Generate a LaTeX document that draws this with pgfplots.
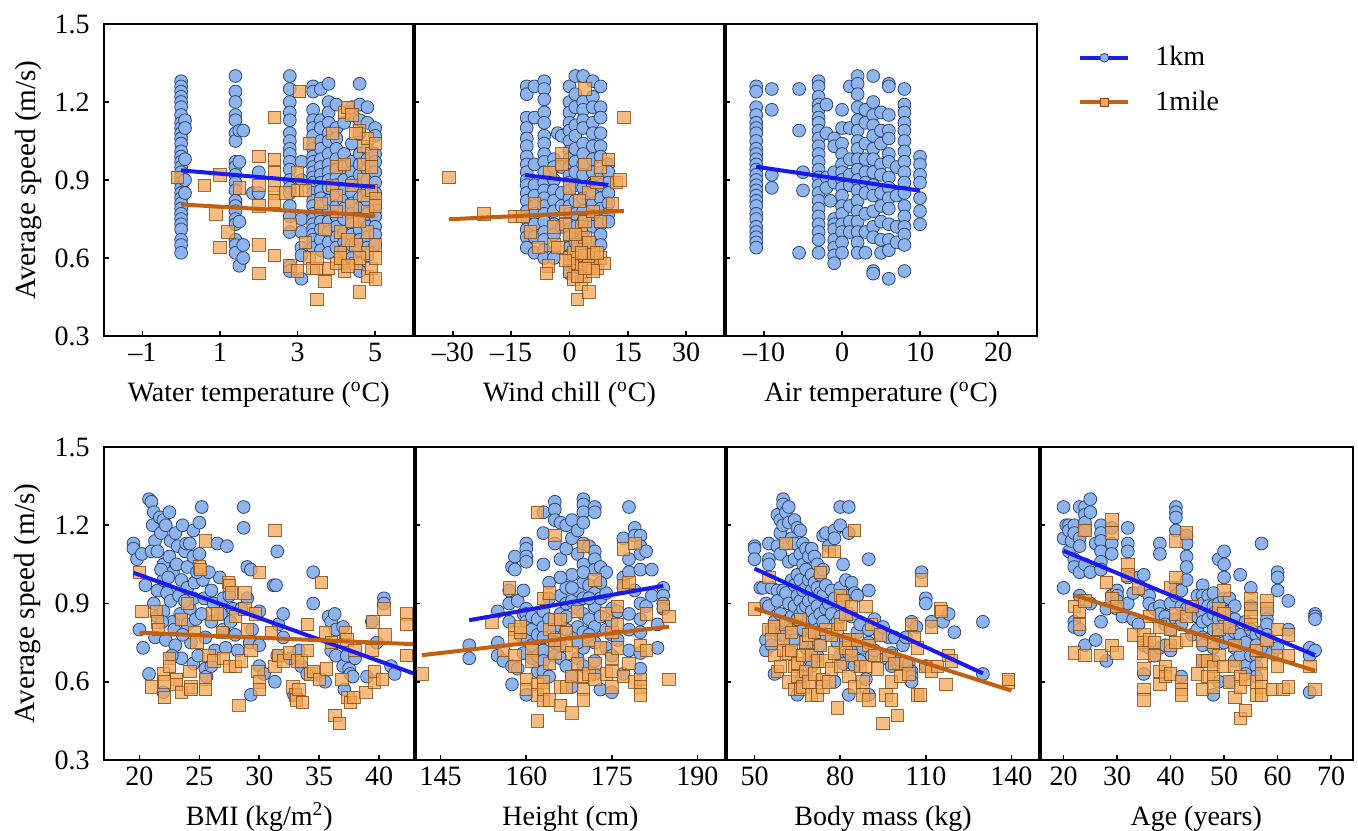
\documentclass[border=0pt]{standalone}
\usepackage{fontspec}
\setmainfont{Liberation Serif}
\usepackage{pgfplots}
\pgfplotsset{compat=1.18}
\definecolor{kmfill}{RGB}{141,180,238}
\definecolor{kmedge}{RGB}{45,70,115}
\definecolor{kmline}{RGB}{25,25,240}
\definecolor{mifill}{RGB}{244,165,85}
\definecolor{miedge}{RGB}{130,75,20}
\definecolor{miline}{RGB}{195,95,15}
\newcommand{\fs}{\fontsize{14pt}{16pt}\selectfont}
\newcommand{\fsl}{\fontsize{14.6pt}{17pt}\selectfont}
\pgfplotsset{
  panel/.style={
    scale only axis, anchor=south west,
    clip marker paths=true,
    ymin=0.3, ymax=1.5,
    ytick={0.3,0.6,0.9,1.2,1.5}, yticklabels={},
    tick align=inside, tick pos=left,
    major tick length=2.5pt,
    axis line style={line width=1pt},
    every tick/.style={black, line width=0.8pt},
    tick label style={font=\fs},
    label style={font=\fs},
    xticklabel style={anchor=base, yshift=-12.75pt, inner sep=0pt},
    yticklabel style={anchor=east, inner sep=0pt, xshift=-6.75pt},
    xlabel style={at={(axis description cs:0.5,0)}, anchor=base, yshift=-32.75pt, inner sep=0pt},
    ylabel style={at={(axis description cs:-0.22,0.5)}, anchor=base, inner sep=0pt, font=\fsl},
    legend image code/.code={\draw[mark repeat=2,mark phase=2,##1] plot coordinates {(0pt,0pt) (12pt,0pt) (24pt,0pt)};},
  },
  thickleft/.style={after end axis/.code={\draw[line width=2.4pt] (rel axis cs:0,0) -- (rel axis cs:0,1);}},
  kmpts/.style={only marks, mark=*, mark size=3.2pt, mark options={fill=kmfill, draw=kmedge, line width=0.4pt}},
  mipts/.style={only marks, mark=square*, mark size=3.1pt, mark options={fill=mifill, draw=miedge, line width=0.4pt, fill opacity=0.75, draw opacity=0.8}},
  kmfit/.style={kmline, line width=2pt},
  mifit/.style={miline, line width=2pt},
}
\begin{document}
\begin{tikzpicture}
\useasboundingbox (0,0) rectangle (679pt,-415pt);
% ---------- Panel 1: water temperature
\begin{axis}[panel, at={(51.75pt,-168pt)}, width=155.25pt, height=156pt,
  xmin=-2, xmax=6, xtick={-1,1,3,5}, xticklabels={–1,1,3,5},
  yticklabels={0.3,0.6,0.9,1.2,1.5},
  ylabel={Average speed (m/s)}, xlabel={Water temperature (\textsuperscript{o}C)}]
\addplot[kmpts] coordinates {
(0,1.28)(0,1.26)(0,1.24)(0,1.22)(0,1.20)(0,1.18)(0,1.15)(0,1.12)(0,1.10)(0,1.08)(0,1.06)(0,1.04)(0,1.01)(0,0.99)(0,0.97)(0,0.95)(0,0.93)(0,0.91)(0,0.89)(0,0.87)(0,0.85)(0,0.83)(0,0.81)(0,0.79)(0,0.77)(0,0.75)(0,0.73)(0,0.71)(0,0.67)(0,0.65)(0,0.62)(0.1,1.13)(0.1,1.10)(0.1,0.98)(0.1,0.90)(0.1,0.85)
(1.4,1.30)(1.4,1.24)(1.4,1.20)(1.4,1.15)(1.4,1.13)(1.4,1.08)(1.4,1.05)(1.4,0.97)(1.4,0.95)(1.4,0.92)(1.4,0.89)(1.4,0.86)(1.4,0.82)(1.4,0.80)(1.4,0.78)(1.4,0.75)(1.4,0.73)(1.4,0.67)(1.4,0.65)(1.4,0.62)(1.5,0.57)(1.5,1.09)(1.5,0.97)(1.5,0.74)(1.6,1.09)(1.6,0.65)(1.6,0.60)(1.85,0.85)(2.0,0.93)(2.0,0.85)
(2.8,1.30)(2.8,1.25)(2.8,1.20)(2.8,1.16)(2.8,1.13)(2.8,1.08)(2.8,1.05)(2.8,1.02)(2.8,1.00)(2.8,0.97)(2.8,0.94)(2.8,0.90)(2.8,0.87)(2.8,0.85)(2.8,0.80)(2.8,0.76)(2.8,0.70)(2.8,0.57)(2.8,0.55)
(3.1,0.97)(3.1,0.90)(3.1,0.75)(3.1,0.70)(3.1,0.64)(3.1,0.61)(3.1,0.52)
(3.4,1.26)(3.4,1.24)(3.4,1.17)(3.4,1.13)(3.4,1.10)(3.4,1.07)(3.4,1.04)(3.4,1.02)(3.4,0.99)(3.4,0.97)(3.4,0.95)(3.4,0.93)(3.4,0.91)(3.4,0.89)(3.4,0.87)(3.4,0.85)(3.4,0.82)(3.4,0.80)(3.4,0.77)(3.4,0.75)(3.4,0.73)(3.4,0.71)(3.4,0.69)(3.4,0.67)(3.4,0.64)
(3.6,1.25)(3.6,1.13)(3.6,1.10)(3.6,1.05)(3.6,1.02)(3.6,0.98)(3.6,0.95)(3.6,0.92)(3.6,0.89)(3.6,0.86)(3.6,0.83)(3.6,0.80)(3.6,0.77)(3.6,0.74)(3.6,0.71)(3.6,0.67)(3.6,0.63)
(3.8,1.27)(3.8,1.20)(3.8,1.16)(3.8,1.12)(3.8,1.08)(3.8,1.05)(3.8,1.00)(3.8,0.96)(3.8,0.93)(3.8,0.90)(3.8,0.87)(3.8,0.82)(3.8,0.78)(3.8,0.74)(3.8,0.70)(3.8,0.66)(3.8,0.62)
(4.0,1.19)(4.0,1.10)(4.0,1.06)(4.0,1.02)(4.0,0.98)(4.0,0.94)(4.0,0.91)(4.0,0.88)(4.0,0.84)(4.0,0.80)(4.0,0.76)(4.0,0.72)(4.0,0.68)(4.0,0.64)
(4.2,1.12)(4.2,1.00)(4.2,0.95)(4.2,0.90)(4.2,0.86)(4.2,0.82)(4.2,0.79)(4.2,0.75)(4.2,0.70)(4.2,0.66)(4.2,0.63)(4.2,0.58)
(4.4,1.18)(4.4,1.15)(4.4,1.04)(4.4,0.97)(4.4,0.93)(4.4,0.89)(4.4,0.85)(4.4,0.81)(4.4,0.77)(4.4,0.73)(4.4,0.69)(4.4,0.65)(4.4,0.60)
(4.6,1.27)(4.6,1.19)(4.6,1.13)(4.6,1.08)(4.6,1.00)(4.6,0.96)(4.6,0.92)(4.6,0.88)(4.6,0.83)(4.6,0.79)(4.6,0.75)(4.6,0.71)(4.6,0.67)(4.6,0.63)(4.6,0.55)
(4.8,1.18)(4.8,1.12)(4.8,1.02)(4.8,0.98)(4.8,0.94)(4.8,0.90)(4.8,0.86)(4.8,0.82)(4.8,0.77)(4.8,0.72)(4.8,0.68)(4.8,0.64)(4.8,0.61)
(5.0,1.10)(5.0,1.07)(5.0,1.00)(5.0,0.97)(5.0,0.93)(5.0,0.89)(5.0,0.85)(5.0,0.80)(5.0,0.76)(5.0,0.72)(5.0,0.69)(5.0,0.65)
};
\addplot[mipts] coordinates {
(-0.1,0.91)(0.6,0.88)(1.0,0.92)(0.9,0.77)(1.2,0.70)(1.0,0.64)(1.5,0.87)(2.0,0.99)(2.0,0.88)(2.0,0.80)(2.0,0.65)(2.0,0.54)(2.4,1.14)(2.4,0.98)(2.4,0.93)(2.4,0.88)(2.4,0.85)(2.4,0.82)(2.4,0.61)(2.7,0.85)(2.8,0.73)(2.8,0.57)(3.0,0.93)(3.0,0.86)(3.05,1.24)(3.2,0.66)(3.0,0.55)(3.3,1.04)(3.3,0.60)(3.4,0.56)(3.5,0.56)(3.5,0.44)(3.7,0.51)(3.8,0.56)(3.9,0.88)(3.9,1.08)(4.0,0.95)(4.0,0.84)(4.0,0.78)(4.1,0.70)(4.1,0.62)(4.2,1.16)(4.2,0.55)(4.3,1.18)(4.4,1.15)(4.4,0.88)(4.4,0.80)(4.4,0.74)(4.5,0.65)(4.5,0.58)(4.6,0.47)(4.6,1.09)(4.7,1.03)(4.7,0.96)(4.7,0.90)(4.7,0.84)(4.8,1.06)(4.8,0.78)(4.8,0.70)(4.8,0.62)(4.8,0.53)(4.9,1.00)(4.9,0.86)(4.9,0.56)(5.0,0.83)(5.0,0.80)(5.0,0.65)(5.0,0.60)(5.0,0.52)(4.5,1.08)(4.2,0.96)(3.6,0.81)(3.7,0.71)(4.3,0.67)(4.0,0.58)(4.6,0.74)(3.2,0.86)(3.5,0.60)(4.1,0.60)(4.9,0.95)(5.0,1.04)(4.6,0.60)(4.3,0.57)
};
\addplot[kmfit] coordinates {(0,0.937) (5,0.873)};
\addplot[mifit] coordinates {(0,0.806) (5,0.763)};
\end{axis}
% ---------- Panel 2: wind chill
\begin{axis}[panel, thickleft, at={(207pt,-168pt)}, width=155.5pt, height=156pt,
  xmin=-40, xmax=40, xtick={-30,-15,0,15,30}, xticklabels={–30,–15,0,15,30},
  xlabel={Wind chill (\textsuperscript{o}C)}]
\addplot[kmpts] coordinates {
(-11,1.26)(-11,1.23)(-11,1.14)(-11,1.10)(-11,1.06)(-11,1.03)(-11,0.99)(-11,0.96)(-11,0.93)(-11,0.90)(-11,0.88)(-11,0.85)(-11,0.82)(-11,0.78)(-11,0.75)(-11,0.71)(-11,0.68)(-11,0.64)
(-9,1.26)(-9,1.14)(-9,0.96)(-9,0.88)(-9,0.84)(-9,0.80)(-9,0.77)(-9,0.73)(-9,0.68)(-9,0.62)
(-6.5,1.28)(-6.5,1.25)(-6.5,1.21)(-6.5,1.16)(-6.5,1.12)(-6.5,1.07)(-6.5,1.04)(-6.5,1.00)(-6.5,0.97)(-6.5,0.93)(-6.5,0.89)(-6.5,0.86)(-6.5,0.83)(-6.5,0.80)(-6.5,0.77)(-6.5,0.74)(-6.5,0.70)(-6.5,0.67)(-6.5,0.63)(-6.5,0.60)
(-4,0.98)(-4,0.95)(-4,0.90)(-4,0.86)(-4,0.82)(-4,0.78)(-4,0.73)(-4,0.69)(-4,0.62)(-4,0.60)(-3,1.08)
(-2,1.07)(-2,0.95)(-2,0.85)(-2,0.80)(-2,0.72)
(0,1.26)(0,1.20)(0,1.16)(0,1.12)(0,1.09)(0,1.05)(0,1.01)(0,0.98)(0,0.95)(0,0.92)(0,0.89)(0,0.86)(0,0.83)(0,0.80)(0,0.77)(0,0.74)(0,0.71)(0,0.68)(0,0.64)(0,0.61)(0,0.57)(0,0.54)
(1.5,1.30)(1.5,1.23)(1.5,1.18)(1.5,1.11)(1.5,1.07)(1.5,1.02)(1.5,0.97)(1.5,0.93)(1.5,0.88)(1.5,0.82)(1.5,0.77)(1.5,0.72)(1.5,0.66)(1.5,0.60)(1.5,0.55)
(3.5,1.30)(3.5,1.20)(3.5,1.17)(3.5,1.13)(3.5,1.10)(3.5,1.04)(3.5,1.00)(3.5,0.96)(3.5,0.92)(3.5,0.87)(3.5,0.83)(3.5,0.78)(3.5,0.74)(3.5,0.70)(3.5,0.66)(3.5,0.62)(3.5,0.58)
(6,1.28)(6,1.22)(6,1.18)(6,1.12)(6,1.08)(6,1.03)(6,0.98)(6,0.93)(6,0.88)(6,0.85)(6,0.81)(6,0.76)(6,0.72)(6,0.66)(6,0.62)(6,0.58)
(8,1.26)(8,1.18)(8,1.14)(8,1.08)(8,1.03)(8,0.99)(8,0.93)(8,0.88)(8,0.83)(8,0.79)(8,0.73)(8,0.69)(8,0.65)
(10,0.96)(10,0.93)(10,0.89)(10,0.85)(10,0.81)(10,0.77)(10,0.74)
};
\addplot[mipts] coordinates {
(-31,0.91)(-22,0.77)(-14,0.76)(-12,0.76)(-10,0.70)(-9,0.81)(-8,0.64)(-5,0.93)(-4,0.72)(-4,0.65)(-5.5,0.57)(-6,0.54)(-3,0.64)(-2,1.00)(-2,0.96)(-1,0.78)(-1,0.73)(0,0.87)(0,0.69)(0,0.60)(0,0.55)(1,0.62)(1,0.52)(2,0.44)(2,0.58)(2,0.65)(3,0.72)(3,0.57)(3,0.50)(4,1.25)(4,0.96)(4,0.74)(4,0.68)(4,0.61)(4,0.53)(5,0.47)(5,0.85)(5,0.57)(6,0.62)(6,0.78)(7,0.89)(7,0.56)(8,0.60)(8,0.74)(8,0.95)(9,0.58)(10,0.98)(11,0.81)(12,0.89)(14,1.14)(13,0.90)(2.5,0.82)(1.5,0.69)(5,0.66)(3,0.62)(6,0.55)(-1,0.59)(2,0.53)(4,0.56)(7,0.62)
};
\addplot[kmfit] coordinates {(-11.5,0.919) (10,0.881)};
\addplot[mifit] coordinates {(-31,0.749) (14,0.781)};
\end{axis}
% ---------- Panel 3: air temperature
\begin{axis}[panel, thickleft, at={(362.5pt,-168pt)}, width=156pt, height=156pt,
  xmin=-15, xmax=25, xtick={-10,0,10,20}, xticklabels={–10,0,10,20},
  xlabel={Air temperature (\textsuperscript{o}C)},
  legend style={draw=none, fill=none, at={(rel axis cs:1.131,0.929)}, anchor=north west, font=\fs, row sep=11pt, inner sep=0pt, nodes={inner sep=0pt}, /tikz/every odd column/.append style={column sep=12.5pt}},
  legend cell align=left]
\addlegendimage{kmline, line width=2pt, mark=*, mark size=2.2pt, mark options={fill=kmfill, draw=kmedge, line width=0.4pt}}
\addlegendentry{1km}
\addlegendimage{miline, line width=2pt, mark=square*, mark size=2.1pt, mark options={fill=mifill, draw=miedge, line width=0.4pt}}
\addlegendentry{1mile}
\addplot[kmpts, forget plot] coordinates {
(-11,1.26)(-11,1.24)(-11,1.18)(-11,1.15)(-11,1.12)(-11,1.10)(-11,1.08)(-11,1.05)(-11,1.02)(-11,1.00)(-11,0.98)(-11,0.96)(-11,0.94)(-11,0.92)(-11,0.90)(-11,0.88)(-11,0.86)(-11,0.84)(-11,0.82)(-11,0.80)(-11,0.77)(-11,0.75)(-11,0.72)(-11,0.70)(-11,0.68)(-11,0.66)(-11,0.64)
(-9,1.25)(-9,1.17)(-9,0.92)(-9,0.87)(-5.5,1.25)(-5.5,1.09)(-5.5,0.62)(-5,0.93)(-5,0.86)
(-3,1.28)(-3,1.26)(-3,1.22)(-3,1.19)(-3,1.17)(-3,1.14)(-3,1.12)(-3,1.09)(-3,1.06)(-3,1.03)(-3,1.00)(-3,0.97)(-3,0.94)(-3,0.91)(-3,0.88)(-3,0.85)(-3,0.82)(-3,0.79)(-3,0.76)(-3,0.73)(-3,0.70)(-3,0.67)(-3,0.62)
(-2,1.19)(-2,1.08)(-2,0.91)(-2,0.87)(-1.5,0.82)
(-1,1.06)(-1,1.03)(-1,0.93)(-1,0.89)(-1,0.75)(-1,0.73)(-1,0.71)(-1,0.67)(-1,0.64)(-1,0.61)(-1,0.58)
(0,1.17)(0,1.10)(0,1.04)(0,1.00)(0,0.96)(0,0.93)(0,0.90)(0,0.87)(0,0.84)(0,0.80)(0,0.77)(0,0.73)(0,0.70)(0,0.66)(0,0.62)
(1,1.26)(1,1.10)(1,0.98)(1,0.92)(1,0.88)(1,0.80)(1,0.74)(1,0.70)
(2,1.30)(2,1.27)(2,1.23)(2,1.18)(2,1.13)(2,1.09)(2,1.05)(2,1.02)(2,0.98)(2,0.94)(2,0.90)(2,0.86)(2,0.82)(2,0.78)(2,0.74)(2,0.70)(2,0.66)(2,0.62)
(3,1.17)(3,1.12)(3,1.04)(3,0.98)(3,0.93)(3,0.89)(3,0.85)(3,0.77)(3,0.70)(3,0.62)
(4,1.30)(4,1.20)(4,1.15)(4,1.11)(4,1.07)(4,1.02)(4,0.98)(4,0.93)(4,0.88)(4,0.84)(4,0.78)(4,0.72)(4,0.68)(4,0.55)(4,0.54)
(5,1.16)(5,1.09)(5,1.04)(5,0.96)(5,0.92)(5,0.85)(5,0.80)(5,0.74)(5,0.67)(5,0.62)
(6,1.27)(6,1.26)(6,1.15)(6,1.09)(6,1.06)(6,1.00)(6,0.97)(6,0.91)(6,0.87)(6,0.83)(6,0.79)(6,0.73)(6,0.67)(6,0.63)(6,0.52)
(7,0.95)(7,0.84)(7,0.72)(7,0.66)
(8,1.25)(8,1.19)(8,1.16)(8,1.12)(8,1.09)(8,1.05)(8,1.01)(8,0.97)(8,0.93)(8,0.89)(8,0.85)(8,0.80)(8,0.76)(8,0.72)(8,0.69)(8,0.65)(8,0.55)
(10,0.99)(10,0.96)(10,0.92)(10,0.89)(10,0.83)(10,0.78)(10,0.73)
};
\addplot[kmfit, forget plot] coordinates {(-11,0.951) (10,0.859)};
\end{axis}
% ---------- Panel 4: BMI
\begin{axis}[panel, at={(51.75pt,-380pt)}, width=155.75pt, height=156.5pt,
  xmin=17, xmax=43, xtick={20,25,30,35,40}, xticklabels={20,25,30,35,40},
  yticklabels={0.3,0.6,0.9,1.2,1.5},
  ylabel={Average speed (m/s)}, xlabel={BMI (kg/m\textsuperscript{2})}]
\addplot[kmpts] coordinates {
(19.5,1.13)(19.5,1.11)(19.8,1.07)(20.2,1.09)(20.0,0.80)(20.3,0.73)(20.5,0.97)(20.8,0.63)(20.8,1.30)(21.0,1.29)(21.2,1.25)(21.1,1.20)(21.3,1.14)(21.0,1.10)(21.5,1.10)(21.5,0.95)(21.7,1.23)(21.8,1.17)(21.2,0.90)(21.5,0.85)(21.3,0.77)(22.0,1.22)(22.2,1.20)(22.0,1.05)(22.0,0.99)(22.3,0.94)(22.0,0.87)(22.2,0.76)(22.0,0.56)(22.5,1.25)(22.6,1.14)(22.5,1.08)(22.8,1.02)(22.6,0.91)(22.8,0.83)(22.9,0.80)(23.0,1.17)(23.2,1.12)(23.1,1.05)(23.5,0.99)(23.3,0.93)(23.4,0.86)(23.0,0.74)(23.5,0.69)(23.6,1.20)(23.8,1.10)(24.0,1.04)(24.0,0.96)(24.2,0.88)(24.0,0.82)(24.3,0.75)(24.5,1.18)(24.5,1.08)(24.6,0.98)(24.5,0.92)(24.7,0.84)(24.5,0.67)(25.0,1.21)(25.2,1.27)(25.0,1.09)(25.3,0.99)(25.4,0.92)(25.2,0.86)(25.5,0.77)(25.5,0.65)(25.6,0.62)(26.0,0.95)(26.2,0.90)(26.0,0.83)(26.3,0.72)(26.5,1.13)(26.7,1.00)(27.0,0.92)(27.0,0.80)(27.2,0.73)(27.3,1.12)(27.5,0.93)(27.8,0.88)(28.0,0.78)(28.2,0.72)(28.7,1.27)(28.7,1.19)(29.0,1.04)(29.3,1.03)(29.0,0.92)(29.4,0.80)(29.2,0.75)(29.3,0.55)(30.0,0.87)(30.0,0.74)(30.0,0.66)(30.4,0.63)(31.2,0.97)(31.4,0.97)(31.5,1.10)(31.5,0.70)(31.3,0.60)(31.6,0.82)(32.0,0.86)(32.0,0.77)(32.6,0.69)(32.9,0.55)(33.3,0.72)(33.5,0.66)(34.0,0.63)(34.5,1.02)(34.5,0.90)(35.5,0.60)(35.8,0.85)(36.0,0.83)(36.3,0.86)(36.4,0.80)(36.0,0.72)(36.4,0.70)(37.0,0.81)(37.0,0.66)(37.1,0.57)(37.3,0.70)(37.5,0.65)(37.6,0.63)(37.8,0.62)(38.0,0.69)(39.0,0.62)(39.4,0.83)(39.8,0.75)(40.4,0.92)(40.4,0.90)(41.0,0.66)(41.3,0.63)
(21.8,1.03)(22.4,1.00)(23.9,1.13)(24.8,1.02)(26.8,0.86)(27.6,0.83)(23.6,0.78)(24.9,0.70)(26.0,0.66)(21.9,0.83)(22.7,0.70)(28.5,0.88)(23.8,0.91)(25.8,1.02)(24.2,1.13)
};
\addplot[mipts] coordinates {
(20.0,1.02)(20.2,0.87)(21.0,0.58)(21.4,0.87)(21.5,0.83)(21.6,0.80)(22.0,0.63)(22.1,0.60)(22.1,0.54)(22.5,0.69)(22.5,0.66)(23.1,0.61)(23.1,0.59)(23.5,0.56)(23.5,0.84)(24.0,0.90)(24.2,0.64)(24.3,0.58)(24.3,0.57)(24.6,0.79)(24.8,0.75)(25.0,1.04)(25.1,1.03)(25.5,1.14)(25.5,0.61)(25.5,0.57)(25.8,0.70)(26.1,0.86)(26.2,0.68)(26.5,0.86)(26.9,0.79)(27.0,0.69)(27.4,0.98)(27.5,0.97)(27.7,0.94)(27.5,0.66)(28.0,0.66)(28.0,0.85)(28.3,0.51)(28.5,0.68)(28.8,0.94)(28.8,0.88)(29.0,0.80)(29.3,0.72)(29.7,0.86)(29.9,0.64)(30.0,1.02)(30.0,0.60)(30.0,0.57)(31.0,0.79)(31.3,1.18)(31.3,0.66)(31.6,0.70)(32.0,0.68)(32.5,0.71)(32.8,0.58)(33.0,0.55)(33.1,0.53)(33.3,0.57)(33.6,0.52)(33.2,0.68)(33.5,0.68)(34.0,0.72)(34.0,0.82)(34.3,0.63)(34.5,0.64)(35.0,0.61)(35.2,0.98)(35.5,0.79)(35.6,0.65)(36.0,0.75)(36.3,0.47)(36.7,0.44)(36.9,0.61)(37.2,0.79)(37.3,0.76)(37.4,0.54)(37.6,0.52)(37.9,0.54)(38.0,0.72)(38.9,0.56)(39.4,0.72)(39.6,0.60)(39.6,0.64)(39.5,0.83)(40.3,0.61)(40.4,0.88)(40.5,0.78)(42.3,0.86)(42.3,0.82)(42.3,0.70)
};
\addplot[kmfit] coordinates {(19.5,1.018) (43,0.630)};
\addplot[mifit] coordinates {(20,0.788) (43,0.744)};
\end{axis}
% ---------- Panel 5: height
\begin{axis}[panel, thickleft, at={(207.5pt,-380pt)}, width=155.5pt, height=156.5pt,
  xmin=140.5, xmax=195, xtick={145,160,175,190}, xticklabels={145,160,175,190},
  xlabel={Height (cm)}]
\addplot[kmpts] coordinates {
(150,0.74)(150,0.69)(155,0.87)(155,0.70)(155,0.75)(156,0.68)(157,0.95)(157,0.90)(157,0.83)(157.5,1.04)(157.5,0.66)(157.5,0.59)(158,1.08)(158,1.03)(158.5,0.91)(158.5,0.65)(159,0.78)(159.5,0.95)(159.5,0.86)(159.5,0.71)(160,1.13)(160,1.11)(160,1.08)(160,1.06)(160,0.88)(160,0.86)(160,0.83)(160,0.76)(160,0.55)(161,0.85)(161,0.80)(161,0.74)(161,0.69)(162,0.84)(162,0.78)(162,0.70)(162,0.64)(163,1.25)(163,1.17)(163,1.05)(163,0.87)(163,0.81)(163,0.77)(163,0.72)(163,0.68)(163,0.64)(164,0.92)(164,0.62)(165,1.29)(165,1.26)(165,1.22)(165,1.13)(165,0.81)(165,0.77)(165,0.75)(165,0.70)(166,1.21)(166,1.07)(166,0.93)(166,0.86)(166,0.69)(167,1.20)(167,1.11)(167,0.96)(167,0.90)(167,0.85)(167,0.66)(168,1.22)(168,1.15)(168,1.01)(168,0.91)(168,0.78)(168,0.62)(168,0.58)(169,1.18)(169,1.09)(169,0.95)(169,0.88)(169,0.81)(169,0.69)(170,1.30)(170,1.28)(170,1.25)(170,1.21)(170,1.13)(170,1.05)(170,0.98)(170,0.92)(170,0.86)(170,0.79)(170,0.73)(170,0.66)(171,1.12)(171,0.97)(171,0.84)(172,1.27)(172,1.25)(172,1.10)(172,1.07)(172,1.03)(172,0.94)(172,0.89)(172,0.81)(172,0.75)(172,0.68)(172,0.63)(173,1.04)(173,0.92)(173,0.85)(173,0.57)(174,1.02)(174,0.94)(174,0.80)(174,0.73)(175,0.88)(175,0.83)(175,0.78)(175,0.70)(175,0.56)(176,0.87)(176,0.76)(177,1.15)(177,1.00)(177,0.96)(177,0.63)(178,1.27)(178,1.07)(178,1.02)(178,0.86)(178,0.80)(178,0.72)(179,1.19)(179,1.16)(179,0.95)(180,1.16)(180,1.12)(180,1.09)(180,1.03)(180,0.90)(180,0.84)(180,0.79)(180,0.71)(180,0.65)(181,1.10)(181,0.89)(182,1.03)(182,0.93)(183,0.73)(183,0.82)(184,0.96)(184,0.93)(184,0.90)(184,0.88)
(164,0.98)(166,1.00)(168,0.96)(170,1.02)(171,0.92)(173,0.98)(167,0.80)(169,0.75)(171,0.78)(164,0.84)(166,0.74)
};
\addplot[mipts] coordinates {
(141.7,0.63)(154,0.83)(156,0.72)(157,0.96)(158,0.80)(158,0.77)(158,0.70)(158,0.66)(159,0.79)(159,0.81)(160,0.61)(160,0.57)(161,0.72)(161,0.68)(162,1.25)(162,0.59)(162,0.55)(162,0.45)(163,0.92)(163,0.60)(163,0.53)(163,0.57)(164,0.94)(164,0.80)(164,0.67)(164,0.53)(165,0.84)(165,0.76)(165,1.16)(165,0.71)(166,0.84)(166,0.58)(166,0.51)(167,0.79)(167,0.74)(167,0.58)(168,0.48)(168,0.62)(168,0.71)(169,0.67)(169,0.87)(170,1.12)(170,0.62)(170,0.57)(170,0.53)(171,0.76)(171,0.63)(172,0.99)(172,0.67)(172,0.61)(173,0.73)(174,0.86)(174,0.63)(175,0.79)(175,0.69)(175,0.64)(175,0.58)(176,0.89)(176,0.82)(176,0.73)(177,1.11)(177,0.97)(177,0.62)(178,0.98)(178,0.67)(179,0.60)(179,1.13)(180,0.74)(180,0.61)(180,0.58)(180,0.55)(181,0.86)(181,0.72)(184,0.89)(185,0.85)(185,0.61)
};
\addplot[kmfit] coordinates {(150,0.836) (184,0.968)};
\addplot[mifit] coordinates {(141.7,0.702) (185,0.811)};
\end{axis}
% ---------- Panel 6: body mass
\begin{axis}[panel, thickleft, at={(363pt,-380pt)}, width=157pt, height=156.5pt,
  xmin=40, xmax=150, xtick={50,80,110,140}, xticklabels={50,80,110,140},
  xlabel={Body mass (kg)}]
\addplot[kmpts] coordinates {
(50,1.12)(50,1.11)(50,1.07)(52,0.96)(53,0.96)(54,0.90)(54,0.76)(54,0.72)(55,1.13)(55,1.07)(55,1.05)(55,0.89)(56,0.96)(56,0.80)(56,0.74)(57,0.83)(57,0.63)(58,1.24)(58,1.12)(58,0.95)(58,0.91)(59,1.22)(59,1.17)(59,1.09)(59,0.86)(59,0.78)(60,1.30)(60,1.28)(60,1.20)(60,0.95)(60,0.78)(61,1.25)(61,1.13)(61,0.94)(61,0.83)(62,1.27)(62,1.21)(62,1.06)(62,0.90)(62,0.74)(63,1.15)(63,0.99)(63,0.85)(63,0.80)(64,1.22)(64,1.13)(64,1.07)(64,0.97)(64,0.89)(64,0.76)(65,1.19)(65,1.01)(65,0.93)(65,0.84)(65,0.55)(66,1.18)(66,1.09)(66,0.99)(66,0.91)(66,0.86)(67,1.13)(67,1.05)(67,0.95)(67,0.88)(67,0.80)(67,0.62)(68,1.11)(68,1.03)(68,0.96)(68,0.89)(68,0.73)(69,1.08)(69,0.99)(69,0.91)(69,0.84)(69,0.69)(70,1.11)(70,1.01)(70,0.95)(70,0.87)(70,0.80)(70,0.72)(70,0.66)(71,1.08)(71,0.98)(71,0.92)(71,0.84)(71,0.75)(72,1.05)(72,0.96)(72,0.89)(72,0.80)(72,0.70)(73,1.01)(73,0.94)(73,0.86)(73,0.74)(74,1.16)(74,1.03)(74,0.93)(74,0.83)(75,1.17)(75,0.97)(75,0.88)(75,0.78)(76,1.12)(76,0.90)(77,0.95)(77,0.86)(78,1.18)(78,1.15)(78,0.92)(78,0.60)(79,0.83)(79,0.75)(80,1.27)(80,1.20)(80,0.96)(80,0.85)(80,0.70)(81,1.05)(81,0.91)(81,0.67)(82,0.99)(82,0.76)(83,1.27)(83,1.17)(83,0.93)(83,0.71)(83,0.55)(84,0.98)(84,0.85)(84,0.72)(85,0.94)(85,0.66)(86,0.93)(86,0.79)(87,0.82)(87,0.68)(88,0.73)(89,0.61)(90,1.07)(90,0.95)(90,0.80)(90,0.75)(90,0.55)(91,0.70)(92,0.84)(92,0.72)(94,0.78)(95,0.81)(96,0.69)(97,0.77)(98,0.71)(98,0.66)(99,0.77)(100,0.67)(101,0.68)(102,0.74)(104,0.67)(105,0.83)(105,0.64)(105,0.62)(105,0.60)(106.7,0.81)(108.5,1.02)(110,0.92)(110,0.90)(110,0.66)(112,0.83)(116,0.83)(118,0.86)(120,0.79)(130,0.83)(130,0.63)(103,0.77)
};
\addplot[mipts] coordinates {
(50,0.88)(55,1.00)(55,0.80)(56,0.76)(57,0.81)(57,0.70)(58,0.64)(59,0.66)(60,0.76)(60,0.72)(61,0.82)(61,1.13)(62,0.71)(62,0.60)(63,0.79)(63,0.72)(64,0.66)(64,0.57)(65,0.62)(65,0.67)(66,0.84)(66,0.57)(67,0.70)(67,0.58)(68,0.75)(68,0.64)(69,0.78)(69,0.60)(70,0.70)(70,0.55)(71,0.79)(71,0.63)(72,0.55)(72,0.68)(73,1.02)(73,0.74)(74,0.61)(74,0.58)(75,0.80)(75,0.68)(76,1.10)(76,0.60)(77,0.78)(77,0.65)(78,1.10)(78,0.71)(79,0.80)(79,0.50)(80,0.93)(80,0.82)(80,0.66)(81,0.91)(82,0.86)(82,0.73)(83,0.76)(83,0.62)(84,0.89)(84,0.70)(85,0.58)(85,1.18)(86,0.76)(87,0.66)(88,0.60)(88,0.55)(89,0.89)(89,0.66)(90,0.74)(90,0.53)(91,0.82)(92,0.70)(93,0.65)(94,0.78)(95,0.44)(96,0.55)(97,0.70)(98,0.60)(98,0.53)(99,0.67)(100,0.47)(101,0.62)(103,0.67)(104,0.63)(105,0.82)(106,0.77)(107,0.73)(107,0.55)(108,0.55)(108.5,0.99)(110,0.66)(112,0.64)(112,0.81)(114,0.66)(115,0.88)(115.5,0.87)(117,0.59)(118,0.70)(119,0.68)(139,0.60)(139,0.61)
};
\addplot[kmfit] coordinates {(50,1.034) (130,0.632)};
\addplot[mifit] coordinates {(50,0.881) (140,0.566)};
\end{axis}
% ---------- Panel 7: age
\begin{axis}[panel, thickleft, at={(520pt,-380pt)}, width=156.25pt, height=156.5pt,
  xmin=15.6, xmax=74, xtick={20,30,40,50,60,70}, xticklabels={20,30,40,50,60,70},
  xlabel={Age (years)}]
\addplot[kmpts] coordinates {
(20,1.27)(20,1.15)(20,0.96)(20.5,1.20)(21,1.20)(21,1.18)(21,1.10)(21.5,1.14)(22,1.20)(22,1.17)(22,1.07)(22,1.04)(22,0.83)(22,0.81)(23,1.27)(23,1.15)(23,1.12)(23,1.02)(23,0.93)(23,0.80)(24,1.27)(24,1.24)(24,1.21)(24,1.18)(24,1.05)(24,0.91)(24,0.74)(25,1.30)(25,1.25)(25,0.90)(25,1.02)(26,0.76)(26,1.13)(27,1.20)(27,1.17)(27,1.14)(27,1.10)(27,1.06)(27,1.03)(27,0.83)(28,0.88)(28,0.68)(29,1.19)(29,1.13)(29,1.09)(29,0.93)(30,0.95)(30,0.93)(30,0.91)(30,0.88)(31,0.85)(32,1.19)(32,1.13)(32,1.10)(32,1.00)(32,0.90)(33,0.94)(33,0.84)(34,1.00)(34,0.82)(35,1.01)(35,0.95)(35,0.74)(35,0.63)(36,0.93)(36,0.73)(36,0.90)(37,0.88)(37,0.70)(38,1.13)(38,1.09)(38,0.89)(38,0.86)(38,0.73)(39,0.85)(39,0.82)(39,0.74)(40,0.90)(40,0.80)(40,0.72)(41,1.27)(41,1.25)(41,1.23)(41,1.18)(41,0.96)(41,0.93)(41,0.84)(42,0.95)(42,0.89)(42,0.82)(42,0.62)(43,1.16)(43,1.13)(43,1.08)(43,1.04)(43,0.99)(43,0.88)(44,0.86)(44,0.78)(45,0.93)(45,0.85)(45,0.80)(46,0.97)(46,0.93)(46,0.90)(46,0.86)(46,0.83)(46,0.77)(46,0.74)(46,0.68)(47,0.93)(47,0.89)(47,0.84)(48,0.94)(48,0.89)(48,0.86)(48,0.80)(48,0.73)(48,0.68)(48,0.55)(49,0.90)(49,0.84)(49,0.78)(49,0.60)(49,1.07)(50,1.10)(50,1.05)(50,1.00)(50,0.92)(50,0.88)(50,0.82)(50,0.75)(51,0.92)(51,0.87)(51,0.77)(51,0.60)(52,0.89)(52,0.84)(52,0.79)(52,0.73)(52,0.68)(53,1.01)(53,0.78)(53,0.70)(54,0.83)(54,0.75)(54,0.66)(54,0.63)(55,0.96)(55,0.89)(55,0.80)(55,0.70)(56,0.78)(56,0.74)(56,0.70)(56,0.66)(56,0.62)(57,1.13)(57,0.79)(57,0.72)(58,0.87)(58,0.84)(58,0.82)(58,0.78)(58,0.76)(59,0.71)(60,1.02)(60,1.00)(60,0.95)(60,0.73)(62,0.91)(62,0.80)(66,0.73)(66,0.70)(66,0.56)(67,0.86)(67,0.85)(67,0.84)(67,0.72)
};
\addplot[mipts] coordinates {
(22,0.89)(22,0.71)(23,0.87)(23,0.82)(24,0.70)(24,0.91)(24,1.18)(27,0.70)(28,0.98)(29,1.22)(29,1.17)(29,0.74)(29,0.92)(30,0.71)(30,0.89)(32,1.05)(32,1.01)(33,0.78)(34,0.96)(35,0.78)(35,0.75)(35,0.71)(35,0.57)(35,0.53)(35,0.65)(36,0.76)(36,0.85)(37,0.75)(37,0.70)(38,0.81)(38,0.64)(38,0.59)(39,0.66)(39,0.62)(40,0.96)(40,0.80)(40,0.74)(40,0.63)(41,1.14)(41,1.00)(41,0.86)(41,0.75)(42,0.60)(42,0.57)(42,0.55)(43,0.85)(43,1.17)(43,0.76)(44,0.89)(45,0.63)(46,0.76)(46,0.68)(46,0.57)(47,0.68)(47,0.62)(48,0.75)(48,0.66)(48,0.62)(48,0.58)(49,0.88)(49,0.80)(49,0.70)(50,0.95)(50,0.86)(50,0.66)(51,0.81)(51,0.60)(52,0.74)(52,0.66)(52,0.54)(53,0.62)(53,0.58)(53,0.46)(54,0.49)(54,0.61)(55,0.92)(55,0.88)(55,0.85)(55,0.82)(56,0.72)(56,0.60)(56,0.55)(57,0.67)(57,0.63)(57,0.58)(57,0.55)(58,0.91)(58,0.88)(58,0.76)(59,0.57)(60,0.80)(60,0.70)(60,0.66)(61,0.57)(62,0.78)(62,0.70)(62,0.58)(66,0.66)(67,0.57)
};
\addplot[kmfit] coordinates {(20,1.102) (67,0.702)};
\addplot[mifit] coordinates {(22,0.932) (67,0.642)};
\end{axis}
\end{tikzpicture}
\end{document}
